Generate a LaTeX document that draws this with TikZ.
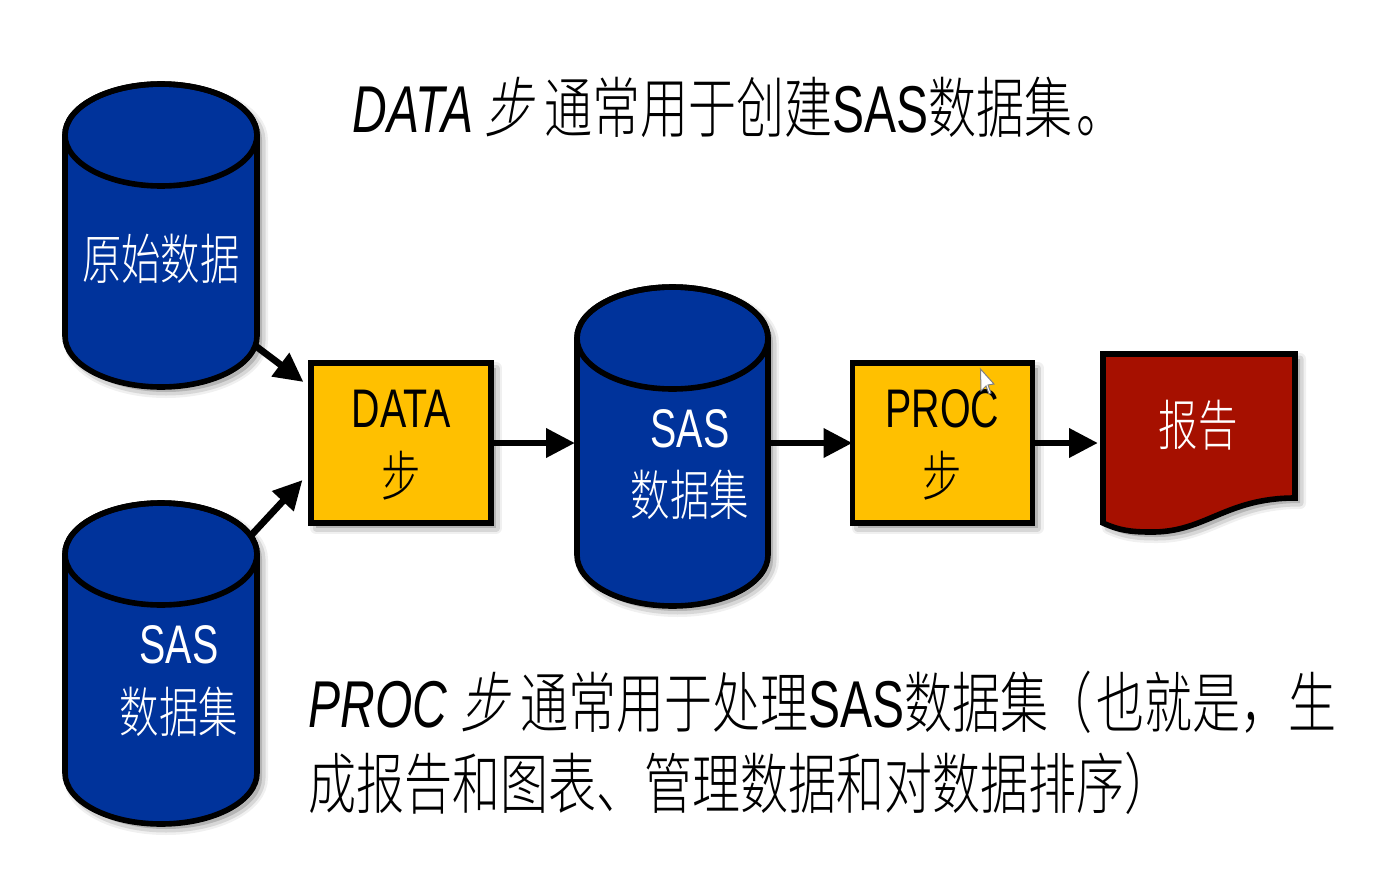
\documentclass[tikz,border=0pt]{standalone}
\usepackage{fontspec}
\setmainfont{Liberation Sans}
\newfontfamily\cjk{Noto Sans CJK SC Light}
\newfontfamily\cjkit[FakeSlant=0.25]{Noto Sans CJK SC Light}
\usetikzlibrary{fit,arrows.meta}
\definecolor{dbblue}{RGB}{0,51,155}
\definecolor{stepyellow}{RGB}{255,192,0}
\definecolor{repred}{RGB}{166,16,0}
\newcommand\tall[1]{\scalebox{1}[1.38]{#1}}
\newcommand\zh[1]{{\cjk #1}}
\newcommand\zhit[1]{{\cjkit #1}}
\tikzset{
  x=0.5pt,y=-0.5pt,
  softshadow/.style={
    preaction={draw=black,fill=black,opacity=.06,line width=6pt,line join=round,transform canvas={shift={(2.5pt,-2.5pt)}}},
    preaction={draw=black,fill=black,opacity=.10,line width=3.5pt,line join=round,transform canvas={shift={(2.5pt,-2.5pt)}}}},
  shapeline/.style={draw=black,line width=2.8pt,line join=miter},
  holder/.style={inner sep=0pt,outer sep=0pt},
  stepbox/.style={shapeline,fill=stepyellow,softshadow,inner sep=0pt,outer sep=0pt,minimum width=90pt,minimum height=80pt},
  flow/.style={draw=black,fill=black,line width=3.4pt,-{Triangle[length=14.5pt,width=14pt]}},
  inbox/.style={inner sep=0pt,font=\fontsize{19.7pt}{22pt}\selectfont},
  headline/.style={inner sep=0pt,anchor=west,font=\fontsize{24pt}{28pt}\selectfont}
}
\newcommand\cyl[5]{% name x1 y1 x2 y2
  \path (#2,#3) coordinate (#1a) (#4,#5) coordinate (#1b);
  \node[holder,fit=(#1a)(#1b)] (#1) {};
  \path[shapeline,fill=dbblue,softshadow]
    (#2,#3+51) -- (#2,#5-51) arc[start angle=180,end angle=0,x radius={(#4-#2)/2},y radius=51]
    -- (#4,#3+51) arc[start angle=0,end angle=-180,x radius={(#4-#2)/2},y radius=51] -- cycle;
  \path[shapeline] ({(#2+#4)/2},#3+51) ellipse [x radius={(#4-#2)/2},y radius=51];
}
\begin{document}
\begin{tikzpicture}
\useasboundingbox (0,0) rectangle (1373,884);
\fill[white] (0,0) rectangle (1373,884);

\cyl{raw}{65}{84}{257}{387}
\cyl{src}{65}{503}{257}{824}
\cyl{sas}{577}{287}{768}{606}

\node[stepbox] (data) at (401,443) {};
\node[stepbox] (proc) at (942.5,443) {};

\path (1103,354) coordinate (repa) (1295,533) coordinate (repb);
\node[holder,fit=(repa)(repb)] (rep) {};
\path[shapeline,fill=repred,softshadow]
  (1103,354) -- (1295,354) -- (1295,498)
  .. controls (1225,498) and (1205,533) .. (1150,532)
  .. controls (1130,532) and (1118,530) .. (1103,523) -- cycle;

% connectors
\draw[flow] ([shift={(-2,110)}]raw.east) -- ([shift={(-7.5,19)}]data.north west);
\draw[flow] ([shift={(-6,-128)}]src.east) -- ([shift={(-8.5,-43)}]data.south west);
\draw[flow] (data.east) -- ([xshift=-1pt]sas.west |- data.east);
\draw[flow] (sas.east |- proc.west) -- (proc.west);
\draw[flow] (proc.east) -- ([xshift=-2.5pt]rep.west |- proc.east);

% labels
\node[inbox,text=white] (rawl) at (161,259) {\tall{\zh{原始数据}}};
\node[inbox,text=white] (srcl1) at (179,645) {\tall{SAS}};
\node[inbox,text=white] (srcl2) at (179,712) {\tall{\zh{数据集}}};
\node[inbox,text=white] (sasl1) at (690,429) {\tall{SAS}};
\node[inbox,text=white] (sasl2) at (690,495) {\tall{\zh{数据集}}};
\node[inbox] (datal1) at (401.5,409) {\tall{DATA}};
\node[inbox] (datal2) at (401,476) {\tall{\zh{步}}};
\node[inbox] (procl1) at (942.5,409) {\tall{PROC}};
\node[inbox] (procl2) at (942,476) {\tall{\zh{步}}};
\node[inbox,text=white] (repl) at (1198,425) {\tall{\zh{报告}}};

\node[headline] (title) at (352,107.5) {\tall{\itshape DATA\hspace{5.5pt}\zhit{步}\hspace{6pt}\upshape\zh{通常用于创建}SAS\zh{数据集\hspace{2pt}。}}};
\node[headline] (line1) at (308,702) {\tall{\itshape PROC\hspace{6.5pt}\zhit{步}\hspace{6pt}\upshape\zh{通常用于处理}SAS\zh{数据集\hspace{-2pt}（\hspace{2pt}也就是，生}}};
\node[headline] (line2) at (308,783.5) {\tall{\zh{成报告和图表、管理数据和对数据排序）}}};

% pointer
\path[fill=white,draw=gray,line width=.5pt] (980.5,369) -- (981,391) -- (986,386) -- (989,394) -- (991,393) -- (988,385) -- (994,384) -- cycle;
\end{tikzpicture}
\end{document}
